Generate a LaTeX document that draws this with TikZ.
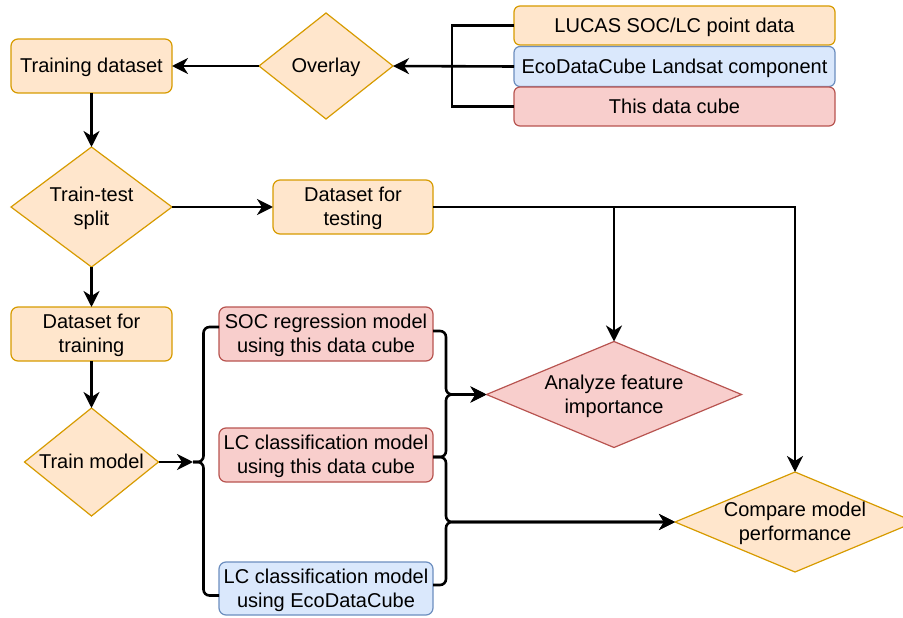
\documentclass[tikz,border=0pt]{standalone}
\usepackage{fontspec}
\setmainfont{Liberation Sans}
\usetikzlibrary{shapes.geometric,arrows.meta,calc}
\definecolor{ofill}{HTML}{FFE6CC}
\definecolor{odraw}{HTML}{D79B00}
\definecolor{bfill}{HTML}{DAE8FC}
\definecolor{bdraw}{HTML}{6C8EBF}
\definecolor{rfill}{HTML}{F8CECC}
\definecolor{rdraw}{HTML}{B85450}
\newcommand{\ztext}[1]{\raisebox{-7pt}[0pt][0pt]{\makebox[0pt]{\begin{tabular}{@{}c@{}}#1\end{tabular}}}}
\tikzset{
  basebox/.style={rectangle, rounded corners=7pt, line width=1.2pt, inner sep=0pt, outer sep=0pt,
    font=\fontsize{20}{24}\selectfont},
  obox/.style={basebox, fill=ofill, draw=odraw},
  bbox/.style={basebox, fill=bfill, draw=bdraw},
  rbox/.style={basebox, fill=rfill, draw=rdraw},
  basedia/.style={diamond, line width=1.2pt, inner sep=0pt, outer sep=0pt, font=\fontsize{20}{24}\selectfont},
  odia/.style={basedia, fill=ofill, draw=odraw},
  rdia/.style={basedia, fill=rfill, draw=rdraw},
  conn/.style={line width=2.6pt, draw=black},
  arr/.style={conn, -{Stealth[length=16pt,width=16pt,inset=5pt]}},
  rc/.style={rounded corners=6pt},
}
\begin{document}
\begin{tikzpicture}[x=1pt,y=-1pt]
\useasboundingbox (0,0) rectangle (903,618);
% input data
\node[obox, rounded corners=6pt, minimum width=321pt, minimum height=39pt] (lucas) at (674.5,25.5) {\ztext{LUCAS SOC/LC point data}};
\node[bbox, rounded corners=6pt, minimum width=321pt, minimum height=40pt] (eco) at (674.5,66.5) {\ztext{EcoDataCube Landsat component}};
\node[rbox, rounded corners=6pt, minimum width=321pt, minimum height=39pt] (cube) at (674.5,106.5) {\ztext{This data cube}};
% main flow
\node[odia, minimum width=134pt, minimum height=106pt] (overlay) at (326,66) {\ztext{Overlay}};
\node[obox, minimum width=161pt, minimum height=54pt] (train) at (91.5,66) {\ztext{Training dataset}};
\node[odia, minimum width=161pt, minimum height=120pt] (split) at (91.5,207) {\ztext{Train-test\\split}};
\node[obox, minimum width=160pt, minimum height=54pt] (test) at (353,207) {\ztext{Dataset for\\testing}};
\node[obox, minimum width=161pt, minimum height=54pt] (dtrain) at (91.5,334) {\ztext{Dataset for\\training}};
\node[odia, minimum width=134pt, minimum height=108pt] (trainm) at (91.5,462) {\ztext{Train model}};
% models
\node[rbox, minimum width=214pt, minimum height=54pt] (soc) at (326,334) {\ztext{SOC regression model\\using this data cube}};
\node[rbox, minimum width=214pt, minimum height=54pt] (lc1) at (326,455) {\ztext{LC classification model\\using this data cube}};
\node[bbox, minimum width=214pt, minimum height=53pt] (lc2) at (326,588.5) {\ztext{LC classification model\\using EcoDataCube}};
% outcomes
\node[rdia, minimum width=255pt, minimum height=106pt] (analyze) at (614,394.5) {\ztext{Analyze feature\\importance}};
\node[odia, minimum width=240pt, minimum height=100pt] (compare) at (795,522) {\ztext{Compare model\\performance}};
% connectors: inputs
\coordinate (jin) at (452,66);
\draw[conn] (lucas.west) -| (jin |- cube.west) -- (cube.west);
\draw[arr] (eco.west) -- (overlay.east);
\draw[arr] (overlay.west) -- (train.east);
\draw[arr] (train.south) -- (split.north);
\draw[arr] (split.east) -- (test.west);
\draw[arr] (test.east) -| (compare.north);
\draw[arr] (test.east -| analyze.north) -- (analyze.north);
\draw[arr] (split.south) -- (dtrain.north);
\draw[arr] (dtrain.south) -- (trainm.north);
% left bracket
\coordinate (jl) at (203.5,462);
\coordinate (ja) at (193,462);
\draw[arr] (trainm.east) -- (ja);
\draw[conn, rc] ($(soc.west)+(0,-7)$) -| (jl) -- (ja);
\draw[conn, rc] ($(lc2.west)+(0,7)$) -| (jl) -- (ja);
% right bracket
\coordinate (jr) at (446,394.5);
\coordinate (jc) at (446,522);
\draw[arr, rc] ($(soc.east)+(0,-3)$) -| (jr) -- (analyze.west);
\draw[arr, rc] ($(lc1.east)+(0,2)$) -| (jr) -- (analyze.west);
\draw[arr, rc] ($(lc1.east)+(0,2)$) -| (jc) -- (compare.west);
\draw[arr, rc] ($(lc2.east)+(0,-3.5)$) -| (jc) -- (compare.west);
\end{tikzpicture}
\end{document}
